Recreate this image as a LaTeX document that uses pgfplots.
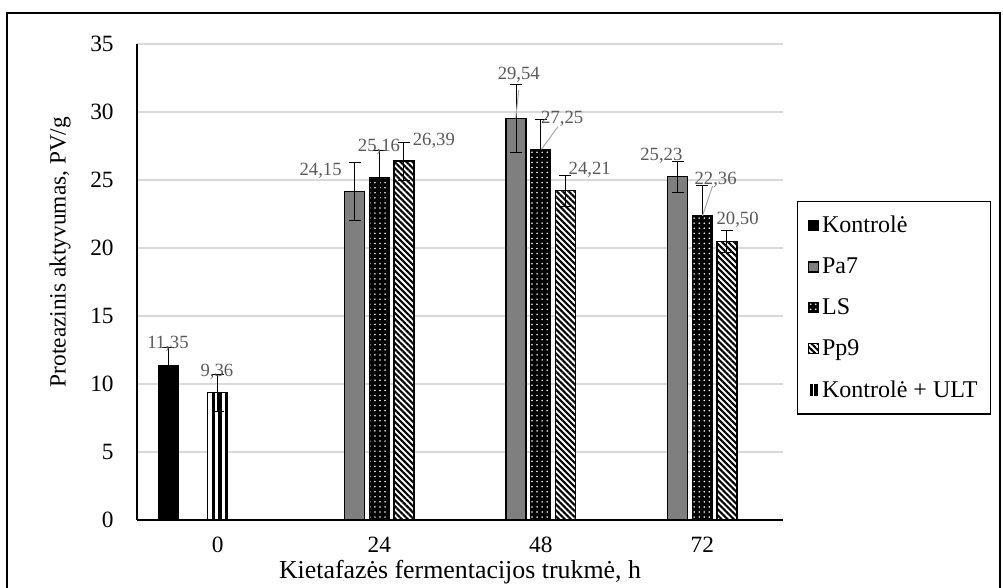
\documentclass[border=0pt]{standalone}
\usepackage{fontspec}
\setmainfont{Liberation Serif}
\usepackage{pgfplots}
\pgfplotsset{compat=1.18}
\usetikzlibrary{patterns.meta}
\definecolor{pagray}{HTML}{7F7F7F}
\definecolor{lblgray}{HTML}{595959}
\definecolor{gridgray}{HTML}{D9D9D9}
\definecolor{leadgray}{HTML}{A6A6A6}
\tikzset{
  kont/.style={draw=black, line width=0.9pt, fill=black},
  pa/.style={draw=black, line width=0.9pt, fill=pagray},
  ls/.style={draw=black, line width=0.9pt, preaction={fill=black}, pattern={Dots[distance=3.8pt,radius=0.65pt]}, pattern color=white},
  pp/.style={draw=black, line width=0.9pt, preaction={fill=white}, pattern={Lines[angle=-45,distance=3.2pt,line width=1.6pt]}, pattern color=black},
  ult/.style={draw=black, line width=0.9pt, preaction={fill=white}, pattern={Lines[angle=90,distance=5pt,line width=2.4pt]}, pattern color=black},
  lbl/.style={font=\fontsize{14}{16}\selectfont, text=lblgray, inner sep=0pt},
  lead/.style={leadgray, line width=0.75pt},
}
\pgfplotsset{
  myerr/.style={error bars/.cd, y dir=both, y explicit, error mark=|,
    error bar style={black, line width=0.75pt},
    error mark options={black, line width=0.75pt, mark size=4.5pt}, /pgfplots/.cd},
}
\begin{document}
\begin{tikzpicture}[x=1pt,y=1pt]
\path[use as bounding box] (-102.75,-51) rectangle (649.5,390);
\begin{axis}[
  at={(0pt,0pt)}, anchor=south west,
  scale only axis, width=484.5pt, height=357pt,
  xmin=-0.5, xmax=3.5, ymin=0, ymax=35,
  xtick={0,1,2,3}, xticklabels={0,24,48,72},
  ytick={0,5,...,35},
  axis x line*=bottom, axis y line*=left,
  axis line style={black, line width=0.8pt, -},
  major tick length=0pt,
  ymajorgrids, grid style={gridgray, line width=1.1pt},
  tick label style={font=\fontsize{17.5}{20}\selectfont},
  /pgf/number format/assume math mode=true,
  xticklabel style={yshift=-9.5pt},
  yticklabel style={xshift=-14pt},
  xlabel={Kietafazės fermentacijos trukmė, h},
  ylabel={Proteazinis aktyvumas, PV/g},
  every axis x label/.style={at={(axis description cs:0.5,-0.11)}, anchor=center, font=\fontsize{19.4}{22}\selectfont},
  every axis y label/.style={at={(axis description cs:-0.119,0.563)}, anchor=center, rotate=90, font=\fontsize{17.5}{20}\selectfont},
  bar width=0.124,
  legend style={at={(axis description cs:1.0217,0.67)}, anchor=north west, draw=black, line width=0.9pt, font=\fontsize{18}{21}\selectfont, row sep=13.3pt, inner xsep=8pt, inner ysep=9pt},
  legend cell align=left,
  clip=false,
]
\addplot[ybar, bar shift=0, kont,
  legend image code/.code={\draw[kont] (0pt,-3.75pt) rectangle (7.5pt,3.75pt);}, myerr]
  coordinates {(-0.306,11.35) +- (0,1.3)};
\addlegendentry{Kontrolė}
\addplot[ybar, bar shift=0, pa,
  legend image code/.code={\draw[pa] (0pt,-3.75pt) rectangle (7.5pt,3.75pt);}, myerr]
  coordinates {(0.847,24.15) +- (0,2.1) (1.847,29.54) +- (0,2.5) (2.847,25.23) +- (0,1.15)};
\addlegendentry{Pa7}
\addplot[ybar, bar shift=0, ls,
  legend image code/.code={\draw[ls] (0pt,-3.75pt) rectangle (7.5pt,3.75pt);}, myerr]
  coordinates {(1,25.16) +- (0,2.0) (2,27.25) +- (0,2.2) (3,22.36) +- (0,2.2)};
\addlegendentry{LS}
\addplot[ybar, bar shift=0, pp,
  legend image code/.code={\draw[pp] (0pt,-3.75pt) rectangle (7.5pt,3.75pt);}, myerr]
  coordinates {(1.153,26.39) +- (0,1.4) (2.153,24.21) +- (0,1.15) (3.153,20.50) +- (0,0.8)};
\addlegendentry{Pp9}
\addplot[ybar, bar shift=0, ult,
  legend image code/.code={\fill[black] (1pt,-3.75pt) rectangle (3pt,3.75pt) (4.5pt,-3.75pt) rectangle (6.5pt,3.75pt);}, myerr]
  coordinates {(0,9.36) +- (0,1.35)};
\addlegendentry{Kontrolė + ULT}
\draw[lead] (axis cs:1.864,31.62) -- (axis cs:1.845,29.54);
\draw[lead] (axis cs:2.107,28.92) -- (axis cs:2.004,27.26);
\draw[lead] (axis cs:3.064,24.56) -- (axis cs:3.001,22.35);
\node[lbl] at (axis cs:-0.308,12.94) {11,35};
\node[lbl] at (axis cs:-0.005,10.90) {9,36};
\node[lbl] at (axis cs:0.637,25.68) {24,15};
\node[lbl] at (axis cs:0.998,27.45) {25,16};
\node[lbl] at (axis cs:1.338,27.87) {26,39};
\node[lbl] at (axis cs:1.864,32.72) {29,54};
\node[lbl] at (axis cs:2.133,29.49) {27,25};
\node[lbl] at (axis cs:2.303,25.74) {24,21};
\node[lbl] at (axis cs:2.747,26.76) {25,23};
\node[lbl] at (axis cs:3.083,25.05) {22,36};
\node[lbl] at (axis cs:3.219,22.11) {20,50};
\end{axis}
\draw[line width=1.5pt] (-97.5,-51) -- (-97.5,380.25) -- (647.25,380.25) -- (647.25,-51);
\end{tikzpicture}
\end{document}
